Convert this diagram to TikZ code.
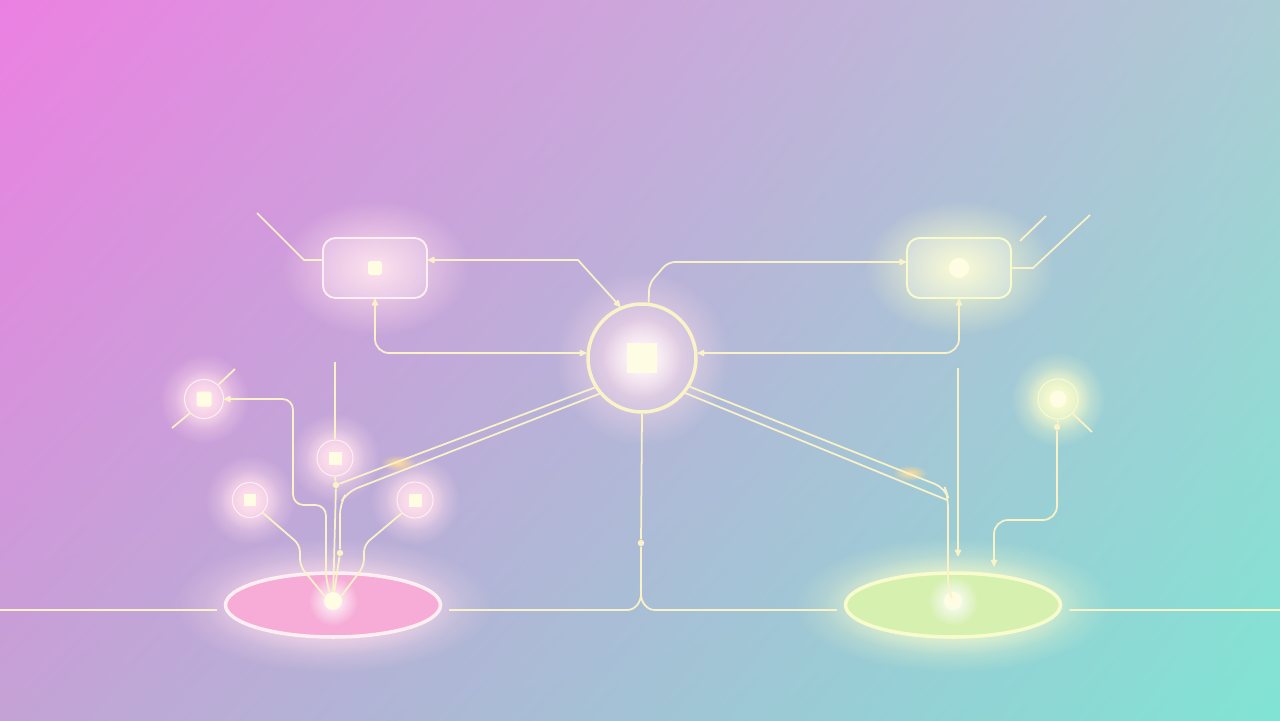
\documentclass[tikz,border=0pt]{standalone}
\usetikzlibrary{arrows.meta,shapes.geometric,fadings,shadings}
\definecolor{bgTL}{RGB}{236,128,226}
\definecolor{bgTR}{RGB}{172,204,212}
\definecolor{bgBL}{RGB}{196,162,214}
\definecolor{bgBR}{RGB}{128,228,212}
\definecolor{lineC}{RGB}{250,242,200}
\definecolor{rimP}{RGB}{255,238,242}
\definecolor{rimY}{RGB}{248,252,205}
\definecolor{glowP}{RGB}{255,222,236}
\definecolor{glowY}{RGB}{250,252,205}
\definecolor{padP}{RGB}{246,172,214}
\definecolor{padY}{RGB}{214,240,176}
\definecolor{coreC}{RGB}{255,252,228}
\definecolor{sparkC}{RGB}{255,220,150}
\tikzfading[name=glowfade, inner color=transparent!0, outer color=transparent!100]

\begin{document}
\begin{tikzpicture}
  [x=0.02cm,y=-0.02cm,
   wire/.style={draw=lineC,line width=1pt},
   halo/.style={fill=#1,path fading=glowfade},
   hub/.style={circle,draw=lineC,line width=2pt,minimum size=2.16cm},
   card/.style={rectangle,rounded corners=0.25cm,line width=1.1pt,minimum width=2.08cm,minimum height=1.2cm},
   pad/.style={ellipse,line width=2pt,minimum width=4.3cm,minimum height=1.28cm},
   port/.style={circle,draw=rimP,line width=0.6pt,minimum size=#1},
   core/.style={rectangle,fill=coreC,inner sep=0pt,minimum size=#1},
   spot/.style={circle,fill=coreC,inner sep=0pt,minimum size=#1},
   tap/.style={circle,fill=lineC,inner sep=0pt,minimum size=0.13cm},
   >={Latex[length=5pt,width=4.5pt,round]}]

  \useasboundingbox (0,0) rectangle (1280,720);
  \clip (0,0) rectangle (1280,720);

  % backdrop
  \shade[upper left=bgTL,upper right=bgTR,lower left=bgBL,lower right=bgBR]
    (0,0) rectangle (1280,720);

  % glows
  \fill[halo=glowP] (375,268) ellipse (1.9cm and 1.35cm);
  \fill[halo=glowY] (959,268) ellipse (1.9cm and 1.35cm);
  \fill[halo=glowP] (642,358) circle (1.75cm);
  \fill[halo=white] (642,358) circle (0.8cm);
  \fill[halo=glowP] (333,605) ellipse (3.2cm and 1.35cm);
  \fill[halo=glowP] (333,605) ellipse (2.6cm and 1cm);
  \fill[halo=glowY] (953,605) ellipse (3.2cm and 1.35cm);
  \fill[halo=glowY] (953,605) ellipse (2.6cm and 1cm);
  \foreach \p in {(204,399),(335,458),(250,500),(415,500)}
    {\fill[halo=glowP] \p circle (0.9cm);
     \fill[halo=glowP] \p circle (0.6cm);}
  \fill[halo=glowY] (1058,399) circle (0.95cm);
  \fill[halo=glowY] (1058,399) circle (0.65cm);
  \fill[halo=sparkC] (398,463) ellipse (0.35cm and 0.16cm);
  \fill[halo=sparkC] (910,473) ellipse (0.35cm and 0.16cm);

  % main nodes
  \node[hub] (ctr) at (642,358) {};
  \node[core=0.6cm] (ctrIn) at (ctr) {};
  \node[card,draw=rimP,fill=white,fill opacity=0.15] (boxL) at (375,268) {};
  \node[core=0.28cm,rounded corners=1.5pt] (boxLIn) at (boxL) {};
  \node[card,draw=rimY,fill=white,fill opacity=0.18] (boxR) at (959,268) {};
  \node[spot=0.4cm] (boxRIn) at (boxR) {};
  \node[pad,draw=rimP,fill=padP] (ellL) at (333,605) {};
  \node[pad,draw=rimY,fill=padY] (ellR) at (953,605) {};
  \fill[halo=white] (333,601) circle (0.5cm);
  \fill[halo=white] (953,601) circle (0.5cm);
  \node[spot=0.36cm] (dotL) at (333,601) {};
  \node[spot=0.36cm] (dotR) at (953,601) {};

  % small ports
  \node[port=0.78cm] (nA) at (204,399) {};
  \node[core=0.3cm,rounded corners=1pt] (nAIn) at (nA) {};
  \node[port=0.72cm] (nB) at (335,458) {};
  \node[core=0.26cm] (nBIn) at (nB) {};
  \node[port=0.7cm] (nC) at (250,500) {};
  \node[core=0.24cm] (nCIn) at (nC) {};
  \node[port=0.72cm] (nD) at (415,500) {};
  \node[core=0.26cm] (nDIn) at (nD) {};
  \node[port=0.8cm,draw=rimY] (nE) at (1058,399) {};
  \node[spot=0.34cm] (nEIn) at (nE) {};

  % taps
  \node[tap] (tapC) at (641,543) {};
  \node[tap] (tapL1) at (336,485) {};
  \node[tap] (tapL2) at (340,553) {};
  \node[tap] (tapE) at (1057,427) {};
  \coordinate (nBtop) at (335,362);
  \coordinate (vR) at (958,368);

  % top links
  \draw[wire] ([yshift=0.16cm]boxL.west) -- (304,260) -- (257,213);
  \draw[wire,<->] ([yshift=0.16cm]boxL.east) -- (578,260) -- (ctr.113);
  \draw[wire,<->,rounded corners=8pt] (boxL.south) |- ([yshift=0.1cm]ctr.west);
  \draw[wire,->,rounded corners=4pt] (ctr.83) -- (649,284) -- (668,262) -- ([yshift=0.12cm]boxR.west);
  \draw[wire,<->,rounded corners=8pt] (boxR.south) |- ([yshift=0.1cm]ctr.east);
  \draw[wire] (boxR.east) -- (1033,268) -- (1090,215);
  \draw[wire] (1020,241) -- (1046,216);

  % left cluster
  \draw[wire] (nA.-135) -- (172,428);
  \draw[wire] (nA.45) -- (235,369);
  \draw[wire,<-,rounded corners=6pt] (nA.east) -- (293,399) -- (293,505) -- (326,505) -- (326,582) -- (dotL);
  \draw[wire] (nB.north) -- (nBtop);
  \draw[wire] (nB.south) -- (tapL1) -- (dotL);
  \draw[wire,rounded corners=4pt] (nC.-45) -- (300,545) -- (300,566) -- (dotL.150);
  \draw[wire,rounded corners=4pt] (nD.-135) -- (364,545) -- (364,566) -- (dotL.30);
  \draw[wire] (ctr.212) -- (tapL1);
  \draw[wire,rounded corners=6pt] (ctr.220) -- (347,492) -- (340,504) -- (tapL2) -- (dotL);

  % right cluster
  \draw[wire,rounded corners=6pt] (ctr.-31) -- (945,488) -- (948,497) -- (948,588) -- (dotR);
  \draw[wire] (ctr.-39) -- (947,500);
  \draw[wire,->] (vR) -- ([shift={(0.1cm,0.3cm)}]ellR.north);
  \draw[wire] (nE.-45) -- (1092,432);
  \draw[wire] (nE.south) -- (tapE);
  \draw[wire,->,rounded corners=8pt] (tapE) -- (1057,520) -- (994,520) -- ([shift={(0.82cm,0.1cm)}]ellR.north);

  % base line
  \draw[wire] (ctr.south) -- (tapC) -- (641,594) to[out=-90,in=0] (627,610) -- ([shift={(0.14cm,-0.1cm)}]ellL.east);
  \draw[wire] (641,594) to[out=-90,in=180] (655,610) -- ([shift={(-0.14cm,-0.1cm)}]ellR.west);
  \draw[wire] (0,610) -- ([shift={(-0.14cm,-0.1cm)}]ellL.west);
  \draw[wire] ([shift={(0.14cm,-0.1cm)}]ellR.east) -- (1280,610);
\end{tikzpicture}
\end{document}
